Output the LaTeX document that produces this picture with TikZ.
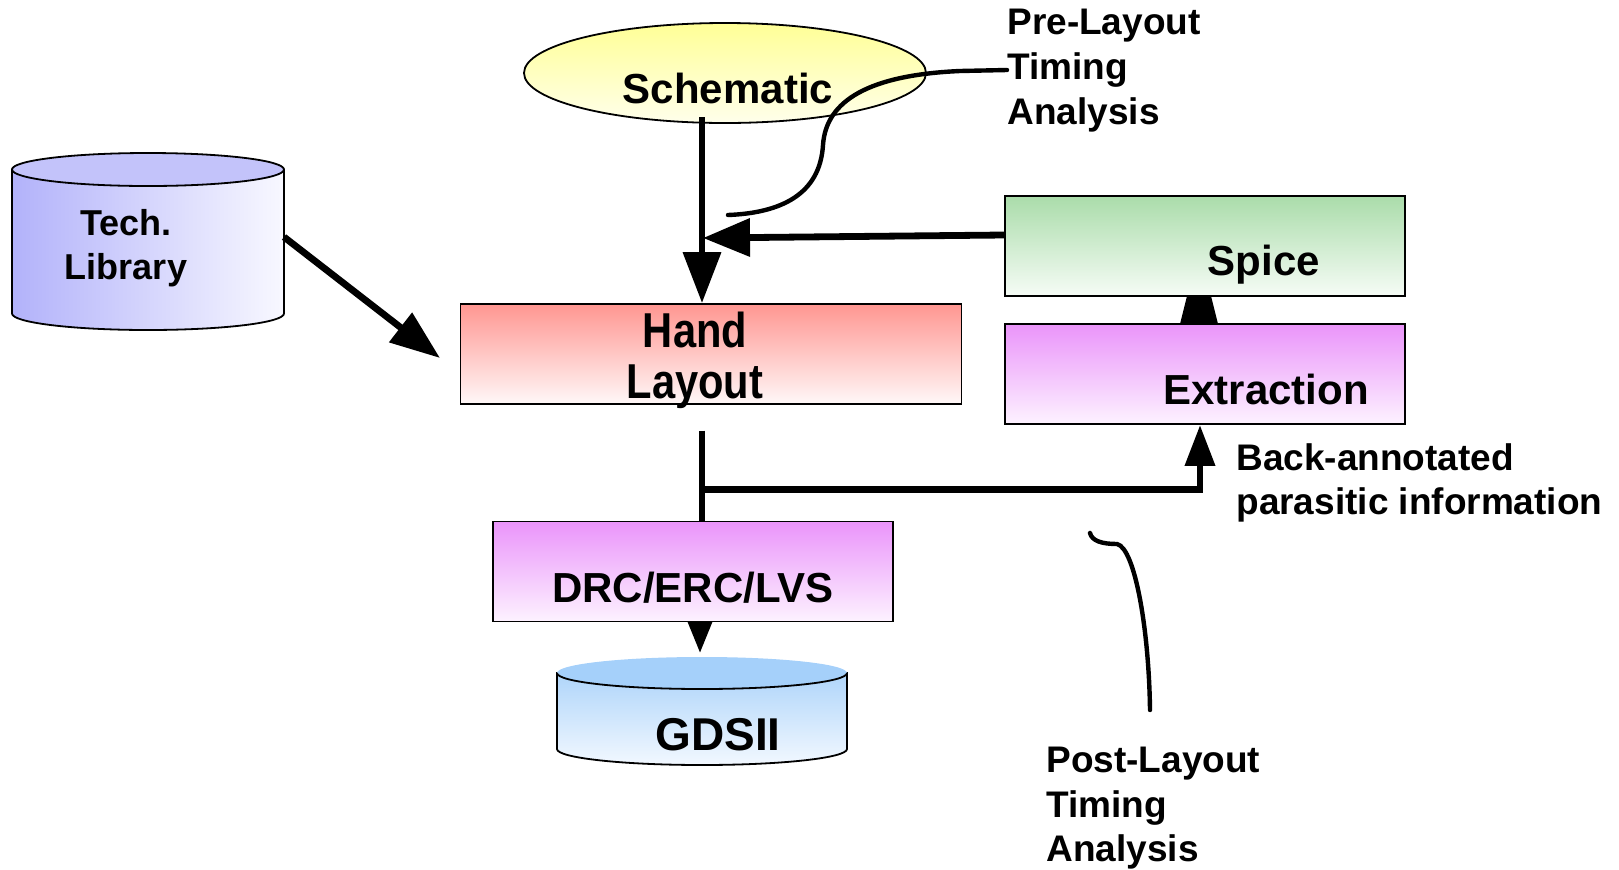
\documentclass[tikz,border=0pt]{standalone}
\usepackage{fontspec}
\setmainfont{Liberation Sans}
\newfontfamily\narrowsans[FakeStretch=0.85]{Liberation Sans}
\usetikzlibrary{arrows.meta,backgrounds,shapes.geometric}

\definecolor{schemtop}{RGB}{255,255,150}
\definecolor{schembot}{RGB}{255,255,235}
\definecolor{libleft}{RGB}{178,178,250}
\definecolor{libright}{RGB}{248,248,255}
\definecolor{libcap}{RGB}{195,195,250}
\definecolor{handtop}{RGB}{255,150,145}
\definecolor{handbot}{RGB}{255,248,248}
\definecolor{spicetop}{RGB}{170,220,170}
\definecolor{spicebot}{RGB}{246,252,246}
\definecolor{violtop}{RGB}{234,148,250}
\definecolor{violbot}{RGB}{253,242,255}
\definecolor{gdscap}{RGB}{165,208,250}
\definecolor{gdstopc}{RGB}{175,213,250}
\definecolor{gdsbot}{RGB}{242,248,255}

\tikzset{
  procbox/.style={draw=black, line width=0.9pt, inner sep=0pt,
    minimum height=50pt},
  boxlbl/.style={font=\bfseries\fontsize{21}{25}\selectfont, inner sep=0pt, anchor=base},
  notelbl/.style={font=\bfseries\fontsize{18.5}{22.5}\selectfont, inner sep=0pt,
    anchor=north west, align=left},
  flow/.style={line width=3.4pt, draw=black},
  callout/.style={line width=2.2pt, line cap=round},
}

\begin{document}
\begin{tikzpicture}[x=0.5pt,y=-0.5pt]
\path[use as bounding box] (0,0) rectangle (1619,869);

% Technology library cylinder
\draw[line width=0.9pt, left color=libleft, right color=libright]
  (12,169.5) -- (12,313.5) arc[start angle=180, end angle=0, x radius=136, y radius=16.5]
  -- (284,169.5) -- cycle;
\draw[line width=0.9pt, fill=libcap] (148,169.5) ellipse[x radius=136, y radius=16.5];
\node[font=\bfseries\fontsize{18}{21.75}\selectfont, align=center, anchor=north, inner sep=0pt]
  (liblbl) at (126,209.5) {Tech.\\Library};

% GDSII cylinder
\draw[line width=0.9pt, top color=gdstopc, bottom color=gdsbot]
  (557,673) -- (557,749) arc[start angle=180, end angle=0, x radius=145, y radius=16]
  -- (847,673) -- cycle;
\fill[gdscap] (702,673) ellipse[x radius=145, y radius=16];
\draw[line width=0.9pt] (557,673) arc[start angle=180, end angle=0, x radius=145, y radius=16];
\node[font=\bfseries\fontsize{23}{27}\selectfont, inner sep=0pt, anchor=base]
  (gdslbl) at (718,750) {GDSII};

% Process steps
\node[ellipse, draw=black, line width=0.9pt, top color=schemtop, bottom color=schembot,
  minimum width=201pt, minimum height=50pt, inner sep=0pt] (schem) at (725,73) {};
\node[boxlbl] (schemlbl) at (728,103) {Schematic};

\node[procbox, minimum width=250.5pt, top color=handtop, bottom color=handbot]
  (hand) at (711,354) {};
\node[font=\narrowsans\bfseries\fontsize{24.5}{25.5}\selectfont, align=center,
  anchor=north, inner sep=0pt] (handlbl) at (695,312) {Hand\\Layout};

\node[procbox, minimum width=200pt, top color=spicetop, bottom color=spicebot]
  (spice) at (1205,246) {};
\node[boxlbl] (spicelbl) at (1264,275) {Spice};

\node[procbox, minimum width=200pt, top color=violtop, bottom color=violbot]
  (extr) at (1205,374) {};
\node[boxlbl] (extrlbl) at (1266,404) {Extraction};

\node[procbox, minimum width=200pt, top color=violtop, bottom color=violbot]
  (drc) at (693,571.5) {};
\node[boxlbl] (drclbl) at (693,602) {DRC/ERC/LVS};

% Annotations
\node[notelbl] (prelbl) at (1007,9) {Pre-Layout\\Timing\\Analysis};
\node[notelbl, font=\bfseries\fontsize{18.5}{22}\selectfont] (backlbl) at (1236,443)
  {Back-annotated\\parasitic information};
\node[notelbl, font=\bfseries\fontsize{18.5}{22.25}\selectfont] (postlbl) at (1046,747)
  {Post-Layout\\Timing\\Analysis};

% Connector end points
\coordinate (schout) at (702,117);
\coordinate (spjoin) at (703,238);
\coordinate (libport) at (284,237);
\coordinate (libtip) at (440,358);
\coordinate (handout) at (702,430.5);
\coordinate (tap) at (702,489.4);
\coordinate (gdsin) at (700,653.5);
\coordinate (sptip) at (1199,247);

% Flow arrows
\draw[flow, -{Triangle[length=25.5pt,width=18.5pt]}] (schout) -- (schout |- hand.north);
\draw[flow, -{Triangle[length=23.5pt,width=18.5pt]}] ([yshift=5.5pt]spice.west) -- (spjoin);
\draw[flow, -{Triangle[length=25pt,width=18pt]}] (libport) -- (libtip);
\draw[flow] (handout) -- (handout |- drc.north);
\draw[flow, -{Triangle[length=20.5pt,width=14.5pt]}] (tap) -| ([xshift=-2.5pt]extr.south);
\draw[flow, -{Triangle[length=16pt,width=11.5pt]}] (drc.south -| gdsin) -- (gdsin);
\begin{scope}[on background layer]
  \draw[flow, -{Triangle[length=38.5pt,width=18pt]}] (extr.north -| sptip) -- (sptip);
\end{scope}

% Timing-analysis callouts
\draw[callout] (prelbl.west |- 0,70) -- (960,71)
  .. controls (870,75) and (826,100) .. (823,145)
  .. controls (820,195) and (780,213) .. (728,215);
\draw[callout] (1090,533) .. controls (1092,541) and (1102,544) .. (1117,544)
  .. controls (1135,548) and (1149,630) .. (1150,710);
\end{tikzpicture}
\end{document}
